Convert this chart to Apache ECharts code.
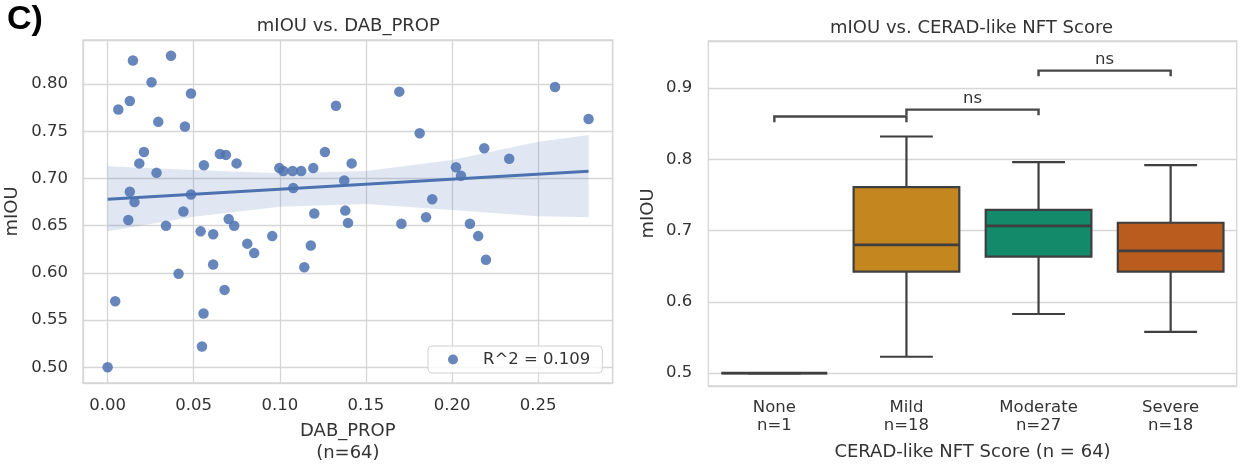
<!DOCTYPE html>
<html>
<head>
<meta charset="utf-8">
<script src="https://cdn.jsdelivr.net/npm/echarts@6/dist/echarts.min.js"></script>
<style>
  html, body { margin: 0; padding: 0; background: #ffffff; }
  #chart { width: 1241px; height: 476px; }
</style>
</head>
<body>
<div id="chart"></div>
<script>
// ---- Panel 1: DAB proportion against mIOU, one point per slide (n = 64) ----
const dabProp = [
  0.0000, 0.0044, 0.0062, 0.0120, 0.0129, 0.0129, 0.0147, 0.0156, 0.0184, 0.0211,
  0.0255, 0.0284, 0.0294, 0.0339, 0.0368, 0.0412, 0.0440, 0.0449, 0.0484, 0.0484,
  0.0540, 0.0548, 0.0557, 0.0559, 0.0613, 0.0613, 0.0652, 0.0679, 0.0687, 0.0703,
  0.0735, 0.0749, 0.0811, 0.0851, 0.0956, 0.0997, 0.1020, 0.1074, 0.1078, 0.1124,
  0.1142, 0.1180, 0.1194, 0.1200, 0.1262, 0.1326, 0.1374, 0.1380, 0.1396, 0.1417,
  0.1694, 0.1706, 0.1812, 0.1849, 0.1885, 0.2023, 0.2052, 0.2104, 0.2152, 0.2187,
  0.2197, 0.2332, 0.2598, 0.2793
];
const miou = [
  0.500, 0.570, 0.773, 0.656, 0.782, 0.686, 0.825, 0.675, 0.716, 0.728,
  0.802, 0.706, 0.760, 0.650, 0.830, 0.599, 0.665, 0.755, 0.790, 0.683,
  0.644, 0.522, 0.557, 0.714, 0.641, 0.609, 0.726, 0.582, 0.725, 0.657,
  0.650, 0.716, 0.631, 0.621, 0.639, 0.711, 0.708, 0.708, 0.690, 0.708,
  0.606, 0.629, 0.711, 0.663, 0.728, 0.777, 0.698, 0.666, 0.653, 0.716,
  0.792, 0.652, 0.748, 0.659, 0.678, 0.712, 0.703, 0.652, 0.639, 0.732,
  0.614, 0.721, 0.797, 0.763
];
// linear fit and its confidence band
const fitX = [0.0000, 0.2793];
const fitY = [0.678, 0.7076];
const bandX = [0.00, 0.05, 0.10, 0.15, 0.20, 0.25, 0.2793];
const bandUpper = [0.713, 0.709, 0.7055, 0.708, 0.7196, 0.739, 0.746];
const bandLower = [0.644, 0.6595, 0.670, 0.673, 0.6666, 0.660, 0.659];
const fitLegend = 'R^2 = 0.109';

// ---- Panel 2: mIOU by CERAD-like NFT score ----
const nftCategories = ['None', 'Mild', 'Moderate', 'Severe'];
const nftCounts = [1, 18, 27, 18];
const boxMin = [0.500, 0.523, 0.583, 0.558];
const boxQ1 = [0.500, 0.6425, 0.6635, 0.6425];
const boxMedian = [0.500, 0.680, 0.7066, 0.6715];
const boxQ3 = [0.500, 0.761, 0.729, 0.711];
const boxMax = [0.500, 0.832, 0.796, 0.792];
// pairwise comparisons drawn as brackets
const sigFrom = ['None', 'Mild', 'Moderate'];
const sigTo = ['Mild', 'Moderate', 'Severe'];
const sigHeight = [0.860, 0.8697, 0.9244];
const sigText = ['', 'ns', 'ns'];

const FONT = '"DejaVu Sans", sans-serif';
const TEXT = '#333333';
const GRID = '#d6d6d6';
const EDGE = '#3f3f3f';
const boxFill = ['#3a6fa8', '#c4861f', '#138a6a', '#b95c1d'];
const pointColor = '#4c72b0';

const chart = echarts.init(document.getElementById('chart'), null, { renderer: 'canvas' });

const tickLabel = { fontFamily: FONT, fontSize: 16.5, color: TEXT, lineHeight: 18 };

const option = {
  animation: false,
  backgroundColor: '#ffffff',
  textStyle: { fontFamily: FONT },
  graphic: [
    { type: 'text', x: 7, y: 3, style: { text: 'C)', font: 'bold 34px "Liberation Sans", Arial, sans-serif', fill: '#000', textVerticalAlign: 'top' } },
    { type: 'text', x: 348.3, y: 17.5, style: { text: 'mIOU vs. DAB_PROP', font: '18px ' + FONT, fill: TEXT, textAlign: 'center', textVerticalAlign: 'top' } },
    { type: 'text', x: 971.5, y: 19.5, style: { text: 'mIOU vs. CERAD-like NFT Score', font: '18px ' + FONT, fill: TEXT, textAlign: 'center', textVerticalAlign: 'top' } }
  ],
  legend: {
    data: [fitLegend],
    left: 428, top: 346,
    icon: 'circle', itemWidth: 10, itemHeight: 10,
    padding: [5, 12, 5, 20],
    backgroundColor: 'rgba(255,255,255,0.8)',
    borderColor: '#d0d0d0', borderWidth: 1, borderRadius: 4,
    selectedMode: false,
    textStyle: { fontFamily: FONT, fontSize: 16.5, color: TEXT, padding: [0, 0, 0, 20] }
  },
  grid: [
    { left: 83, top: 40, width: 529.7, height: 343, show: true, borderColor: GRID, borderWidth: 1.3, backgroundColor: 'transparent' },
    { left: 708.3, top: 41, width: 528.4, height: 345, show: true, borderColor: GRID, borderWidth: 1.3, backgroundColor: 'transparent' }
  ],
  xAxis: [
    {
      type: 'value', gridIndex: 0,
      min: -0.0143, max: 0.2933, splitNumber: 6, minInterval: 0.05, maxInterval: 0.05,
      axisLine: { show: false }, axisTick: { show: false },
      splitLine: { show: true, lineStyle: { color: GRID, width: 1.3 } },
      axisLabel: { ...tickLabel, margin: 14, showMinLabel: false, showMaxLabel: false, formatter: v => v.toFixed(2) },
      name: 'DAB_PROP\n(n=64)', nameLocation: 'middle', nameGap: 37,
      nameTextStyle: { fontFamily: FONT, fontSize: 18, lineHeight: 22, color: TEXT }
    },
    {
      type: 'category', gridIndex: 1, data: nftCategories, boundaryGap: true,
      axisLine: { show: false }, axisTick: { show: false },
      splitLine: { show: false },
      axisLabel: {
        ...tickLabel, margin: 13, interval: 0,
        formatter: (name, i) => name + '\nn=' + nftCounts[i]
      },
      name: 'CERAD-like NFT Score (n = 64)', nameLocation: 'middle', nameGap: 55,
      nameTextStyle: { fontFamily: FONT, fontSize: 18, lineHeight: 22, color: TEXT }
    }
  ],
  yAxis: [
    {
      type: 'value', gridIndex: 0,
      min: 0.4834, max: 0.8467, splitNumber: 7, minInterval: 0.05, maxInterval: 0.05,
      axisLine: { show: false }, axisTick: { show: false },
      splitLine: { show: true, lineStyle: { color: GRID, width: 1.3 } },
      axisLabel: { ...tickLabel, margin: 15, showMinLabel: false, showMaxLabel: false, formatter: v => v.toFixed(2) },
      name: 'mIOU', nameLocation: 'middle', nameGap: 62, nameRotate: 90,
      nameTextStyle: { fontFamily: FONT, fontSize: 18, color: TEXT }
    },
    {
      type: 'value', gridIndex: 1,
      min: 0.482, max: 0.966, splitNumber: 5, minInterval: 0.1, maxInterval: 0.1,
      axisLine: { show: false }, axisTick: { show: false },
      splitLine: { show: true, lineStyle: { color: GRID, width: 1.3 } },
      axisLabel: { ...tickLabel, margin: 16, showMinLabel: false, showMaxLabel: false, formatter: v => v.toFixed(1) },
      name: 'mIOU', nameLocation: 'middle', nameGap: 51, nameRotate: 90,
      nameTextStyle: { fontFamily: FONT, fontSize: 18, color: TEXT }
    }
  ],
  series: [
    // confidence band of the fit, drawn as one polygon
    {
      type: 'custom', name: 'band', xAxisIndex: 0, yAxisIndex: 0, z: 1, silent: true,
      data: bandX.map((x, i) => [x, bandUpper[i], bandLower[i]]),
      encode: { x: 0, y: [1, 2] },
      renderItem: (params, api) => {
        if (params.dataIndex !== 0) return null;
        const upper = bandX.map((x, i) => api.coord([x, bandUpper[i]]));
        const lower = bandX.map((x, i) => api.coord([x, bandLower[i]])).reverse();
        return {
          type: 'polygon',
          shape: { points: upper.concat(lower) },
          style: { fill: 'rgba(76,114,176,0.17)', stroke: 'none' }
        };
      }
    },
    {
      type: 'scatter', name: fitLegend, xAxisIndex: 0, yAxisIndex: 0, z: 2,
      data: dabProp.map((x, i) => [x, miou[i]]),
      symbol: 'circle', symbolSize: 10.5,
      itemStyle: { color: pointColor, opacity: 0.85 }
    },
    {
      type: 'line', name: 'fit', xAxisIndex: 0, yAxisIndex: 0, z: 3,
      data: fitX.map((x, i) => [x, fitY[i]]),
      showSymbol: false, symbol: 'none',
      lineStyle: { color: pointColor, width: 3 }
    },
    // box plots per NFT score group
    {
      type: 'custom', name: 'boxes', xAxisIndex: 1, yAxisIndex: 1, z: 2,
      data: nftCategories.map((c, i) => [i, boxMin[i], boxQ1[i], boxMedian[i], boxQ3[i], boxMax[i]]),
      encode: { x: 0, y: [1, 2, 3, 4, 5] },
      renderItem: (params, api) => {
        const i = api.value(0);
        const cx = api.coord([i, api.value(3)])[0];
        const w = api.size([1, 0])[0] * 0.8;
        const py = v => api.coord([i, v])[1];
        const yMin = py(api.value(1)), yQ1 = py(api.value(2)), yMed = py(api.value(3));
        const yQ3 = py(api.value(4)), yMax = py(api.value(5));
        const st = { stroke: EDGE, lineWidth: 2.2 };
        const cap = w / 4;
        return {
          type: 'group',
          children: [
            { type: 'line', shape: { x1: cx, y1: yQ3, x2: cx, y2: yMax }, style: st },
            { type: 'line', shape: { x1: cx, y1: yQ1, x2: cx, y2: yMin }, style: st },
            { type: 'line', shape: { x1: cx - cap, y1: yMax, x2: cx + cap, y2: yMax }, style: st },
            { type: 'line', shape: { x1: cx - cap, y1: yMin, x2: cx + cap, y2: yMin }, style: st },
            { type: 'rect', shape: { x: cx - w / 2, y: yQ3, width: w, height: yQ1 - yQ3 }, style: { fill: boxFill[i], stroke: EDGE, lineWidth: 2.2 } },
            { type: 'line', shape: { x1: cx - w / 2, y1: yMed, x2: cx + w / 2, y2: yMed }, style: { stroke: EDGE, lineWidth: 2.6 } }
          ]
        };
      }
    },
    // significance brackets
    {
      type: 'custom', name: 'brackets', xAxisIndex: 1, yAxisIndex: 1, z: 3, silent: true,
      data: sigFrom.map((f, i) => [nftCategories.indexOf(f), nftCategories.indexOf(sigTo[i]), sigHeight[i]]),
      encode: { x: [0, 1], y: 2 },
      renderItem: (params, api) => {
        const a = api.value(0), b = api.value(1), h = api.value(2);
        const drop = 0.008;
        const p1 = api.coord([a, h - drop]), p2 = api.coord([a, h]);
        const p3 = api.coord([b, h]), p4 = api.coord([b, h - drop]);
        const children = [{
          type: 'polyline',
          shape: { points: [p1, p2, p3, p4] },
          style: { stroke: '#474747', lineWidth: 2.4, fill: 'none' }
        }];
        const label = sigText[params.dataIndex];
        if (label) {
          children.push({
            type: 'text',
            x: (p2[0] + p3[0]) / 2, y: p2[1] - 2,
            style: { text: label, font: '16.5px ' + FONT, fill: TEXT, textAlign: 'center', textVerticalAlign: 'bottom' }
          });
        }
        return { type: 'group', children };
      }
    }
  ]
};

chart.setOption(option);
</script>
</body>
</html>
